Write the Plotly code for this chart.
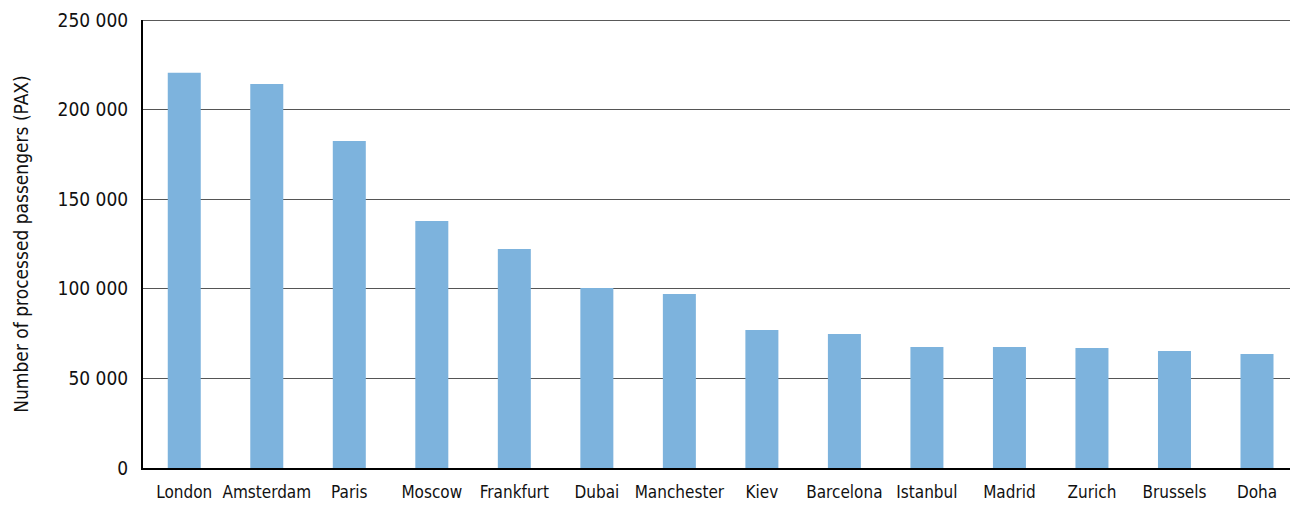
import plotly.graph_objects as go

cities = ['London', 'Amsterdam', 'Paris', 'Moscow', 'Frankfurt', 'Dubai',
          'Manchester', 'Kiev', 'Barcelona', 'Istanbul', 'Madrid', 'Zurich',
          'Brussels', 'Doha']
passengers = [220500, 214300, 182500, 137800, 122200, 100400, 97100, 77000,
              74800, 67500, 67500, 67000, 65300, 63600]
y_ticks = [0, 50000, 100000, 150000, 200000, 250000]

font = "DejaVu Sans Condensed"

fig = go.Figure(go.Bar(x=cities, y=passengers, marker_color='#7db3dd',
                       marker_line_width=0))

fig.update_layout(
    width=1290, height=505,
    margin=dict(l=143, r=0, t=20, b=37),
    plot_bgcolor='white', paper_bgcolor='white',
    bargap=0.6,
    separators='. ',
    font=dict(family=font, color='#111111'),
    showlegend=False,
)
# top border line at the 250 000 level
fig.add_shape(type='line', xref='paper', x0=0, x1=1, yref='y',
              y0=y_ticks[-1], y1=y_ticks[-1],
              line=dict(color='#222222', width=1.5))
# last category is cut a little by the right edge in the original
fig.update_xaxes(range=[-0.5, len(cities) - 0.6],
                 showline=True, linecolor='black', linewidth=2,
                 tickfont=dict(size=17), ticks='', ticklabelstandoff=8,
                 automargin=False)
fig.update_yaxes(range=[0, 250000], tickvals=y_ticks, tickformat=',d',
                 showgrid=True, gridcolor='#555555', gridwidth=1,
                 showline=True, linecolor='black', linewidth=2,
                 zeroline=False, tickfont=dict(size=19), ticklabelstandoff=9,
                 automargin=False,
                 title=dict(text='Number of processed passengers (PAX)',
                            font=dict(size=19), standoff=24))

fig.write_html("out.html", config={'displayModeBar': False},
               post_script="document.body.style.margin='0px';"
                           "document.body.style.overflow='hidden';")
